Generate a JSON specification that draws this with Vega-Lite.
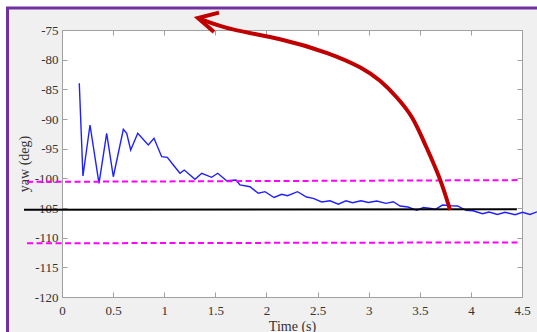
{
  "$schema": "https://vega.github.io/schema/vega-lite/v6.json",
  "width": 460,
  "height": 267,
  "autosize": {"type": "none"},
  "padding": {"left": 62, "top": 30, "right": 15, "bottom": 35},
  "background": "#f0f0f0",
  "config": {
    "view": {"fill": "white", "stroke": "#a0a0a0", "strokeWidth": 1},
    "axis": {
      "labelFont": "Liberation Serif",
      "titleFont": "Liberation Serif",
      "labelFontSize": 13,
      "titleFontSize": 14,
      "labelColor": "#333333",
      "titleColor": "#333333",
      "titleFontWeight": "normal",
      "tickColor": "#a0a0a0",
      "tickSize": -5,
      "domain": false,
      "grid": false,
      "labelFlush": false,
      "labelOverlap": false
    }
  },
  "datasets": {
    "yaw": [
      {"t": 0.169, "yaw": -83.98}, {"t": 0.205, "yaw": -99.61}, {"t": 0.274, "yaw": -91.01},
      {"t": 0.362, "yaw": -100.84}, {"t": 0.437, "yaw": -92.41}, {"t": 0.502, "yaw": -99.73},
      {"t": 0.6, "yaw": -91.74}, {"t": 0.633, "yaw": -92.41}, {"t": 0.672, "yaw": -95.23},
      {"t": 0.741, "yaw": -92.41}, {"t": 0.844, "yaw": -94.38}, {"t": 0.9, "yaw": -93.25},
      {"t": 0.975, "yaw": -96.35}, {"t": 1.03, "yaw": -96.46}, {"t": 1.089, "yaw": -97.75},
      {"t": 1.154, "yaw": -99.15}, {"t": 1.196, "yaw": -98.6}, {"t": 1.301, "yaw": -100.16},
      {"t": 1.367, "yaw": -99.15}, {"t": 1.464, "yaw": -99.83}, {"t": 1.523, "yaw": -99.15},
      {"t": 1.611, "yaw": -100.4}, {"t": 1.702, "yaw": -100.28}, {"t": 1.741, "yaw": -101.12},
      {"t": 1.839, "yaw": -101.41}, {"t": 1.92, "yaw": -102.52}, {"t": 1.986, "yaw": -102.25},
      {"t": 2.074, "yaw": -103.23}, {"t": 2.149, "yaw": -102.69}, {"t": 2.206, "yaw": -102.93},
      {"t": 2.304, "yaw": -102.25}, {"t": 2.392, "yaw": -103.15}, {"t": 2.458, "yaw": -103.37},
      {"t": 2.541, "yaw": -103.99}, {"t": 2.622, "yaw": -103.79}, {"t": 2.703, "yaw": -104.36},
      {"t": 2.778, "yaw": -103.79}, {"t": 2.842, "yaw": -104.11}, {"t": 2.925, "yaw": -103.77},
      {"t": 2.997, "yaw": -104.07}, {"t": 3.079, "yaw": -103.82}, {"t": 3.17, "yaw": -104.21},
      {"t": 3.241, "yaw": -103.94}, {"t": 3.307, "yaw": -104.66}, {"t": 3.385, "yaw": -104.83},
      {"t": 3.47, "yaw": -105.39}, {"t": 3.535, "yaw": -104.92}, {"t": 3.61, "yaw": -105.09},
      {"t": 3.649, "yaw": -105.26}, {"t": 3.722, "yaw": -104.5}, {"t": 3.806, "yaw": -104.61},
      {"t": 3.869, "yaw": -104.66}, {"t": 3.952, "yaw": -105.39}, {"t": 4.021, "yaw": -105.46},
      {"t": 4.114, "yaw": -105.96}, {"t": 4.177, "yaw": -105.68}, {"t": 4.26, "yaw": -106.1},
      {"t": 4.334, "yaw": -105.73}, {"t": 4.432, "yaw": -106.13}, {"t": 4.505, "yaw": -105.73},
      {"t": 4.578, "yaw": -106.1}, {"t": 4.647, "yaw": -105.64}
    ],
    "bounds": [
      {"kind": "upper", "t0": -0.342, "t1": 4.48, "y0": -100.6, "y1": -100.3},
      {"kind": "lower", "t0": -0.342, "t1": 4.48, "y0": -110.95, "y1": -110.8}
    ],
    "mean": [
      {"kind": "mean", "t0": -0.372, "t1": 4.45, "y0": -105.3, "y1": -105.2}
    ],
    "arrow": [
      {"i": 0, "t": 3.796, "y": -105.34},
      {"i": 1, "t": 3.698, "y": -99.78},
      {"i": 2, "t": 3.532, "y": -93.54},
      {"i": 3, "t": 3.434, "y": -89.66},
      {"i": 4, "t": 3.277, "y": -86.29},
      {"i": 5, "t": 3.111, "y": -83.43},
      {"i": 6, "t": 2.945, "y": -81.4},
      {"i": 7, "t": 2.622, "y": -78.88},
      {"i": 8, "t": 2.133, "y": -76.35},
      {"i": 9, "t": 1.643, "y": -75.0},
      {"i": 10, "t": 1.33, "y": -72.98}
    ],
    "head": [
      {"i": 0, "t": 1.536, "y": -72.08},
      {"i": 1, "t": 1.33, "y": -72.98},
      {"i": 2, "t": 1.487, "y": -75.34}
    ],
    "frame": [
      {"part": "margin", "t0": -0.6065, "t1": 5.2, "y0": -69.94, "y1": -135},
      {"part": "border", "t0": -0.533, "t1": 5.2, "y0": -71.29, "y1": -135}
    ]
  },
  "resolve": {"axis": {"x": "independent", "y": "independent"}},
  "layer": [
    {
      "data": {"name": "frame"},
      "transform": [{"filter": "datum.part === 'margin'"}],
      "mark": {"type": "rect", "fill": null, "filled": false, "stroke": "white", "strokeWidth": 15},
      "encoding": {
        "x": {"field": "t0", "type": "quantitative", "axis": null},
        "x2": {"field": "t1"},
        "y": {"field": "y0", "type": "quantitative", "axis": null},
        "y2": {"field": "y1"}
      }
    },
    {
      "data": {"name": "frame"},
      "transform": [{"filter": "datum.part === 'border'"}],
      "mark": {"type": "rect", "fill": null, "filled": false, "stroke": "#7030a0", "strokeWidth": 3},
      "encoding": {
        "x": {"field": "t0", "type": "quantitative", "axis": null},
        "x2": {"field": "t1"},
        "y": {"field": "y0", "type": "quantitative", "axis": null},
        "y2": {"field": "y1"}
      }
    },
    {
      "data": {"name": "yaw"},
      "mark": {"type": "line", "color": "#2020ff", "strokeWidth": 1.4, "clip": false},
      "encoding": {
        "x": {
          "field": "t", "type": "quantitative",
          "scale": {"domain": [0, 4.5], "nice": false, "zero": false},
          "axis": {
            "orient": "bottom",
            "values": [0, 0.5, 1, 1.5, 2, 2.5, 3, 3.5, 4, 4.5],
            "labelExpr": "'' + datum.value",
            "labelPadding": 12,
            "title": "Time (s)",
            "titlePadding": 2
          }
        },
        "y": {
          "field": "yaw", "type": "quantitative",
          "scale": {"domain": [-120, -75], "nice": false, "zero": false},
          "axis": {
            "orient": "left",
            "values": [-120, -115, -110, -105, -100, -95, -90, -85, -80, -75],
            "labelExpr": "'' + datum.value",
            "labelPadding": 9,
            "title": "yaw (deg)",
            "titlePadding": 3
          }
        }
      }
    },
    {
      "data": {"name": "bounds"},
      "mark": {"type": "rule", "color": "#ff00ff", "strokeWidth": 2, "strokeDash": [6, 3.5]},
      "encoding": {
        "x": {
          "field": "t0", "type": "quantitative",
          "axis": {
            "orient": "top",
            "values": [0, 0.5, 1, 1.5, 2, 2.5, 3, 3.5, 4, 4.5],
            "labels": false,
            "title": null
          }
        },
        "x2": {"field": "t1"},
        "y": {
          "field": "y0", "type": "quantitative",
          "axis": {
            "orient": "right",
            "values": [-120, -115, -110, -105, -100, -95, -90, -85, -80, -75],
            "labels": false,
            "title": null
          }
        },
        "y2": {"field": "y1"}
      }
    },
    {
      "data": {"name": "mean"},
      "mark": {"type": "rule", "color": "black", "strokeWidth": 2},
      "encoding": {
        "x": {"field": "t0", "type": "quantitative", "axis": null},
        "x2": {"field": "t1"},
        "y": {"field": "y0", "type": "quantitative", "axis": null},
        "y2": {"field": "y1"}
      }
    },
    {
      "data": {"name": "arrow"},
      "mark": {"type": "line", "color": "#c00000", "strokeWidth": 4, "interpolate": "basis", "strokeCap": "butt"},
      "encoding": {
        "x": {"field": "t", "type": "quantitative", "axis": null},
        "y": {"field": "y", "type": "quantitative", "axis": null},
        "order": {"field": "i"}
      }
    },
    {
      "data": {"name": "head"},
      "mark": {"type": "line", "color": "#c00000", "strokeWidth": 4, "strokeJoin": "miter", "strokeCap": "butt"},
      "encoding": {
        "x": {"field": "t", "type": "quantitative", "axis": null},
        "y": {"field": "y", "type": "quantitative", "axis": null},
        "order": {"field": "i"}
      }
    }
  ]
}
